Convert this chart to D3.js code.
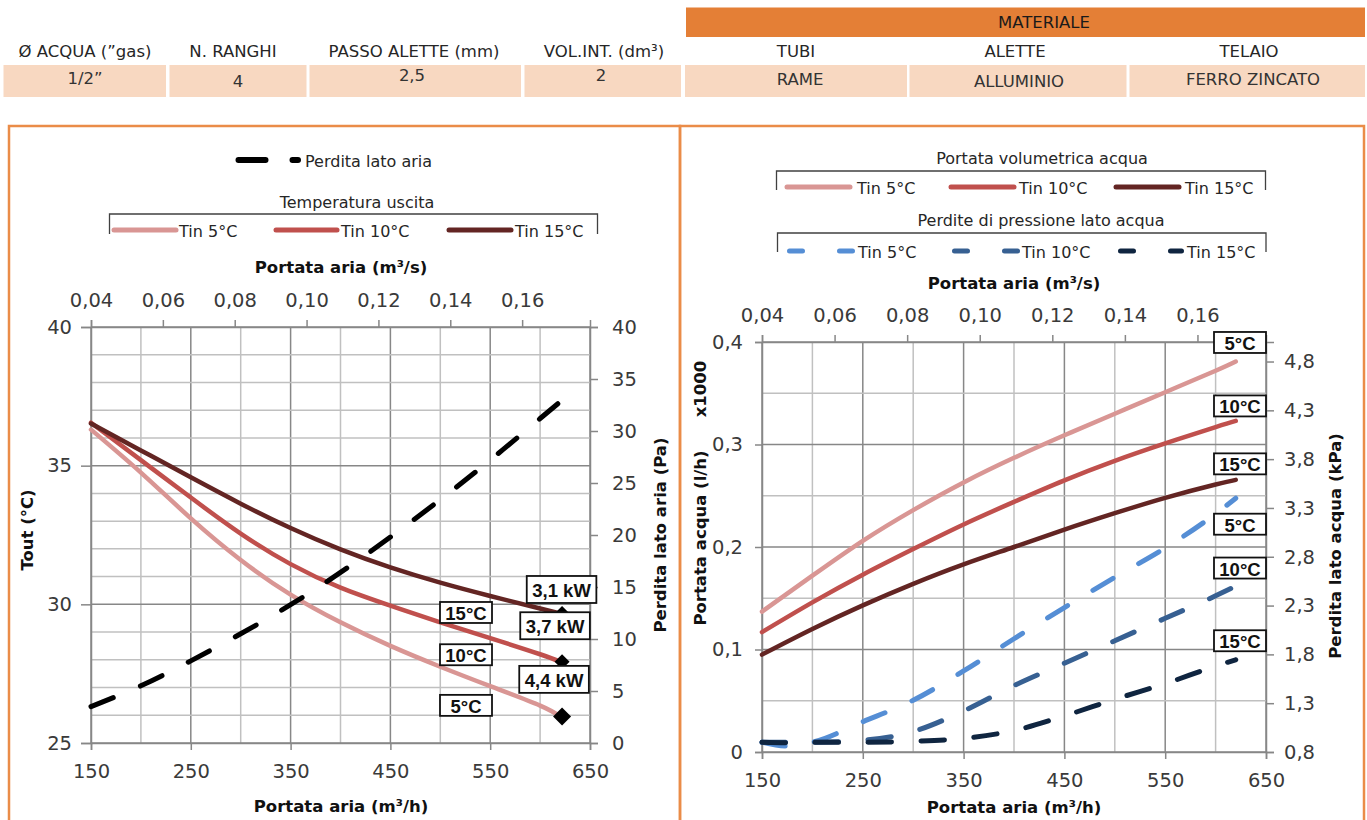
<!DOCTYPE html>
<html>
<head>
<meta charset="utf-8">
<script src="https://cdn.jsdelivr.net/npm/d3@7"></script>
<style>
  body { margin: 0; background: #fff; }
  svg text { font-family: "DejaVu Sans", Lato, sans-serif; }
</style>
</head>
<body>
<svg id="chart" width="1367" height="820"></svg>
<script>
// ---- dati tabella ----
const headerLabels = ["Ø ACQUA (”gas)", "N. RANGHI", "PASSO ALETTE (mm)", "VOL.INT. (dm³)", "TUBI", "ALETTE", "TELAIO"];
const headerValues = ["1/2”", "4", "2,5", "2", "RAME", "ALLUMINIO", "FERRO ZINCATO"];
const materialTitle = "MATERIALE";

// ---- grafico 1: temperatura uscita / perdita lato aria ----
const airflow = [150, 200, 250, 300, 350, 400, 450, 500, 550, 600, 620];
const toutTin5  = [36.3, 34.75, 33.1, 31.6, 30.35, 29.35, 28.5, 27.75, 27.05, 26.35, 25.96];
const toutTin10 = [36.55, 35.2, 33.85, 32.55, 31.45, 30.6, 29.95, 29.35, 28.78, 28.2, 27.93];
const toutTin15 = [36.52, 35.55, 34.58, 33.63, 32.75, 31.98, 31.33, 30.78, 30.3, 29.85, 29.67];
const airPressureDrop = [3.5, 5.5, 7.9, 10.5, 13.3, 16.4, 19.8, 23.4, 27.2, 31.2, 32.8];
const capacityLabels = ["4,4 kW", "3,7 kW", "3,1 kW"];
const tinLabels = ["5°C", "10°C", "15°C"];
const legendTin = ["Tin 5°C", "Tin 10°C", "Tin 15°C"];

// ---- grafico 2: portata acqua / perdite lato acqua ----
const waterFlowTin5  = [0.137, 0.172, 0.206, 0.236, 0.263, 0.287, 0.309, 0.330, 0.351, 0.372, 0.381];
const waterFlowTin10 = [0.117, 0.146, 0.173, 0.198, 0.222, 0.244, 0.265, 0.284, 0.301, 0.317, 0.323];
const waterFlowTin15 = [0.095, 0.12, 0.143, 0.164, 0.183, 0.2, 0.217, 0.233, 0.248, 0.261, 0.2655];
const airflowDp = [150, 175, 200, 250, 300, 350, 400, 450, 500, 550, 600, 620];
const waterDpTin5  = [0.9, 0.86, 0.9, 1.11, 1.33, 1.63, 1.96, 2.28, 2.59, 2.89, 3.24, 3.4];
const waterDpTin10 = [0.9, 0.9, 0.9, 0.92, 1.01, 1.22, 1.48, 1.71, 1.94, 2.17, 2.40, 2.5];
const waterDpTin15 = [0.9, 0.895, 0.9, 0.9, 0.91, 0.94, 1.02, 1.17, 1.34, 1.50, 1.68, 1.745];

// ---- tick ----
const ticksM3h = [150, 250, 350, 450, 550, 650];
const ticksM3s = [0.04, 0.06, 0.08, 0.10, 0.12, 0.14, 0.16];
const ticksTout = [25, 30, 35, 40];
const ticksPa = [0, 5, 10, 15, 20, 25, 30, 35, 40];
const ticksFlow = [0, 0.1, 0.2, 0.3, 0.4];
const ticksKPa = [0.8, 1.3, 1.8, 2.3, 2.8, 3.3, 3.8, 4.3, 4.8];

const reds = ["#d99694", "#c0504d", "#632523"];
const blues = ["#558ed5", "#376092", "#0f2540"];
const ORANGE = "#e47f36";
const GRID_MAJOR = "#878787", GRID_MINOR = "#c0c0c0";
const BOX_FONT = '"Liberation Sans", Arial, sans-serif';

const svg = d3.select("#chart");
const comma = fmt => v => (v === 0 ? "0" : d3.format(fmt)(v).replace(".", ","));

// ---------- tabella ----------
const cellX = [[3.5, 166], [169.5, 306.5], [309.5, 521], [524.5, 681], [685, 907], [909.5, 1126.5], [1129.5, 1365]];
const labelCx = [85, 233, 414, 604, 796, 1015, 1249];
const valueCx = [85, 238, 412, 601, 800, 1019, 1253];
const valueBase = [84, 87, 81, 81, 85, 87, 85];

svg.append("rect").attr("x", 686).attr("y", 7.5).attr("width", 679).attr("height", 29.5).attr("fill", ORANGE);
svg.append("text").attr("x", 1044).attr("y", 27.5).attr("text-anchor", "middle")
  .attr("font-size", 16.5).attr("fill", "#1a1a1a").text(materialTitle);

svg.selectAll("rect.cell").data(cellX).enter().append("rect")
  .attr("class", "cell")
  .attr("x", d => d[0]).attr("y", 65).attr("width", d => d[1] - d[0]).attr("height", 32)
  .attr("fill", "#f8d8c1");

svg.selectAll("text.hlabel").data(headerLabels).enter().append("text")
  .attr("class", "hlabel")
  .attr("x", (d, i) => labelCx[i]).attr("y", 57).attr("text-anchor", "middle")
  .attr("font-size", 16.5).attr("fill", "#262626").text(d => d);

svg.selectAll("text.hvalue").data(headerValues).enter().append("text")
  .attr("class", "hvalue")
  .attr("x", (d, i) => valueCx[i]).attr("y", (d, i) => valueBase[i]).attr("text-anchor", "middle")
  .attr("font-size", 16.5).attr("fill", "#333").text(d => d);

// cornici arancioni
svg.append("rect").attr("x", 9).attr("y", 126).attr("width", 671).attr("height", 720)
  .attr("fill", "none").attr("stroke", "#ea8c48").attr("stroke-width", 2.5);
svg.append("rect").attr("x", 680).attr("y", 126).attr("width", 684).attr("height", 720)
  .attr("fill", "none").attr("stroke", "#ea8c48").attr("stroke-width", 2.5);

// ---------- funzioni comuni ----------
function grid(g, x, y, xStep, yStep, yMajorEvery) {
  const [x0, x1] = x.domain(), [y0, y1] = y.domain();
  const xs = d3.range(x0, x1 + 0.001, xStep);
  const ys = d3.range(0, Math.round((y1 - y0) / yStep) + 1).map(i => y0 + i * yStep);
  g.selectAll("line.vg").data(xs).enter().append("line")
    .attr("x1", d => x(d)).attr("x2", d => x(d))
    .attr("y1", y.range()[0]).attr("y2", y.range()[1])
    .attr("stroke", d => ((d - x0) % (2 * xStep) === 0 ? GRID_MAJOR : GRID_MINOR))
    .attr("stroke-width", 1.5);
  g.selectAll("line.hg").data(ys).enter().append("line")
    .attr("x1", x.range()[0]).attr("x2", x.range()[1])
    .attr("y1", d => y(d)).attr("y2", d => y(d))
    .attr("stroke", (d, i) => (i % yMajorEvery === 0 ? GRID_MAJOR : GRID_MINOR))
    .attr("stroke-width", 1.5);
}

function styleAxis(g) {
  g.select(".domain").attr("stroke", GRID_MAJOR).attr("stroke-width", 1.5);
  g.selectAll(".tick line").attr("stroke", GRID_MAJOR).attr("stroke-width", 1.5);
  g.selectAll(".tick text").attr("font-size", 19.5).attr("fill", "#3a3a3a")
    .style("font-family", '"DejaVu Sans", Lato, sans-serif');
}

function boldTitle(x, y, text, rotate) {
  const t = svg.append("text").attr("text-anchor", "middle").attr("dominant-baseline", "central")
    .attr("font-size", 16.5).attr("font-weight", "bold").attr("fill", "#111");
  if (rotate) t.attr("transform", `translate(${x},${y}) rotate(-90)`);
  else t.attr("x", x).attr("y", y);
  t.text(text);
  return t;
}

// riquadro etichetta: larghezza fissa se w > 0, altrimenti testo + padding
function labelBox(cx, cy, text, w, h) {
  const g = svg.append("g");
  const t = g.append("text").attr("x", cx).attr("y", cy + 1).attr("text-anchor", "middle")
    .attr("dominant-baseline", "central").attr("font-size", 18.5).attr("font-weight", "bold")
    .style("font-family", BOX_FONT).attr("fill", "#111").text(text);
  const bw = w > 0 ? w : t.node().getComputedTextLength() + 11;
  g.insert("rect", "text").attr("x", cx - bw / 2).attr("y", cy - h / 2).attr("width", bw).attr("height", h)
    .attr("fill", "#fff").attr("stroke", "#111").attr("stroke-width", 1.8);
}

function bracket(x0, x1, yTop, yBot) {
  svg.append("path").attr("d", `M${x0},${yBot}V${yTop}H${x1}V${yBot}`)
    .attr("fill", "none").attr("stroke", "#404040").attr("stroke-width", 1.3);
}

function legendText(x, y, text, anchor) {
  svg.append("text").attr("x", x).attr("y", y).attr("dominant-baseline", "central")
    .attr("text-anchor", anchor || "start").attr("font-size", 16).attr("fill", "#262626").text(text);
}

// ---------- grafico 1 ----------
const xL = d3.scaleLinear().domain([150, 650]).range([91, 590]);
const xLtop = d3.scaleLinear().domain([0.04, 0.04 + 500 / 3600]).range([91, 590]);
const yT = d3.scaleLinear().domain([25, 40]).range([743, 327]);
const yPa = d3.scaleLinear().domain([0, 40]).range([743, 327]);

const g1 = svg.append("g");
grid(g1, xL, yT, 50, 1, 5);

const axL = svg.append("g").attr("transform", `translate(91,0)`)
  .call(d3.axisLeft(yT).tickValues(ticksTout).tickSize(10).tickPadding(9));
styleAxis(axL);
const axR = svg.append("g").attr("transform", `translate(590,0)`)
  .call(d3.axisRight(yPa).tickValues(ticksPa).tickSize(8).tickPadding(14));
styleAxis(axR);
const axB = svg.append("g").attr("transform", `translate(0,743)`)
  .call(d3.axisBottom(xL).tickValues(ticksM3h).tickSize(7));
styleAxis(axB);
axB.selectAll(".tick text").attr("y", 28).attr("dy", "0.35em");
const axT = svg.append("g").attr("transform", `translate(0,327)`)
  .call(d3.axisTop(xLtop).tickValues(ticksM3s).tickSize(7).tickFormat(comma(".2f")));
styleAxis(axT);
axT.selectAll(".tick text").attr("y", -27).attr("dy", "0.35em");

boldTitle(27, 530, "Tout (°C)", true);
boldTitle(660, 535, "Perdita lato aria (Pa)", true);
boldTitle(341, 806, "Portata aria (m³/h)");
boldTitle(341, 267, "Portata aria (m³/s)");

const lineT = d3.line().x((d, i) => xL(airflow[i])).y(d => yT(d)).curve(d3.curveNatural);
const toutSeries = [toutTin5, toutTin10, toutTin15];
svg.selectAll("path.tout").data(toutSeries).enter().append("path")
  .attr("class", "tout")
  .attr("d", d => lineT(d)).attr("fill", "none")
  .attr("stroke", (d, i) => reds[i]).attr("stroke-width", 4.5).attr("stroke-linecap", "round");

const linePa = d3.line().x((d, i) => xL(airflow[i])).y(d => yPa(d)).curve(d3.curveNatural);
svg.append("path").attr("d", linePa(airPressureDrop)).attr("fill", "none")
  .attr("stroke", "#000").attr("stroke-width", 5).attr("stroke-linecap", "round")
  .attr("stroke-dasharray", "24 29.5");

// marcatori a rombo a fine curva
const last = airflow.length - 1;
toutSeries.forEach((s, i) => {
  const cx = xL(airflow[last]) + 2, cy = yT(s[last]), r = i === 0 ? 9 : 7.5;
  svg.append("path").attr("d", `M${cx},${cy - r}L${cx + r},${cy}L${cx},${cy + r}L${cx - r},${cy}Z`).attr("fill", "#000");
});

// etichette
const capOffset = [[-6, -37], [-5, -36], [1.5, -24]];
toutSeries.forEach((s, i) => {
  labelBox(xL(airflow[last]) + capOffset[i][0], yT(s[last]) + capOffset[i][1], capacityLabels[i], 0, 27);
});
const tinOffset = [-11, -7, -1];
toutSeries.forEach((s, i) => {
  labelBox(466, yT(s[last]) + tinOffset[i], tinLabels[i], 52, 21);
});

// legenda grafico 1
svg.append("line").attr("x1", 238.5).attr("x2", 298).attr("y1", 160).attr("y2", 160)
  .attr("stroke", "#000").attr("stroke-width", 6).attr("stroke-linecap", "round")
  .attr("stroke-dasharray", "27 27");
legendText(305, 161, "Perdita lato aria");
legendText(357, 202, "Temperatura uscita", "middle");
bracket(109.5, 597.5, 214, 234);
const leg1X = [[114, 176, 179], [276, 337, 341], [449, 511, 515]];
leg1X.forEach((p, i) => {
  svg.append("line").attr("x1", p[0]).attr("x2", p[1]).attr("y1", 230).attr("y2", 230)
    .attr("stroke", reds[i]).attr("stroke-width", 5).attr("stroke-linecap", "round");
  legendText(p[2], 231, legendTin[i]);
});

// ---------- grafico 2 ----------
const xR = d3.scaleLinear().domain([150, 650]).range([762, 1266]);
const xRtop = d3.scaleLinear().domain([0.04, 0.04 + 500 / 3600]).range([762, 1266]);
const yQ = d3.scaleLinear().domain([0, 0.4]).range([752, 342]);
const yK = d3.scaleLinear().domain([0.8, 5.0]).range([752, 342]);

const g2 = svg.append("g");
grid(g2, xR, yQ, 50, 0.05, 2);

const ax2L = svg.append("g").attr("transform", `translate(762,0)`)
  .call(d3.axisLeft(yQ).tickValues(ticksFlow).tickSize(7).tickPadding(12).tickFormat(comma(".1f")));
styleAxis(ax2L);
const ax2R = svg.append("g").attr("transform", `translate(1266,0)`)
  .call(d3.axisRight(yK).tickValues(ticksKPa).tickSize(8).tickPadding(10).tickFormat(comma(".1f")));
styleAxis(ax2R);
const ax2B = svg.append("g").attr("transform", `translate(0,752)`)
  .call(d3.axisBottom(xR).tickValues(ticksM3h).tickSize(7));
styleAxis(ax2B);
ax2B.selectAll(".tick text").attr("y", 28).attr("dy", "0.35em");
const ax2T = svg.append("g").attr("transform", `translate(0,342)`)
  .call(d3.axisTop(xRtop).tickValues(ticksM3s).tickSize(7).tickFormat(comma(".2f")));
styleAxis(ax2T);
ax2T.selectAll(".tick text").attr("y", -27).attr("dy", "0.35em");

boldTitle(700, 538, "Portata acqua (l/h)", true);
boldTitle(700, 389, "x1000", true);
boldTitle(1335, 546, "Perdita lato acqua (kPa)", true);
boldTitle(1014, 807, "Portata aria (m³/h)");
boldTitle(1014, 283, "Portata aria (m³/s)");

const flowSeries = [waterFlowTin5, waterFlowTin10, waterFlowTin15];
const dpSeries = [waterDpTin5, waterDpTin10, waterDpTin15];
const lineQ = d3.line().x((d, i) => xR(airflow[i])).y(d => yQ(d)).curve(d3.curveNatural);
const lineK = d3.line().x((d, i) => xR(airflowDp[i])).y(d => yK(d)).curve(d3.curveMonotoneX);

svg.selectAll("path.dp").data(dpSeries).enter().append("path")
  .attr("class", "dp")
  .attr("d", d => lineK(d)).attr("fill", "none")
  .attr("stroke", (d, i) => blues[i]).attr("stroke-width", 5).attr("stroke-linecap", "round")
  .attr("stroke-dasharray", "23.5 29.5");
svg.selectAll("path.flow").data(flowSeries).enter().append("path")
  .attr("class", "flow")
  .attr("d", d => lineQ(d)).attr("fill", "none")
  .attr("stroke", (d, i) => reds[i]).attr("stroke-width", 4.5).attr("stroke-linecap", "round");

const flowOffset = [-19, -15, -16];
flowSeries.forEach((s, i) => labelBox(1240, yQ(s[last]) + flowOffset[i], tinLabels[i], 52, 21));
const dpOffset = [26, -18, -19];
dpSeries.forEach((s, i) => labelBox(1240, yK(s[s.length - 1]) + dpOffset[i], tinLabels[i], 52, 21));

// legenda grafico 2
legendText(1042, 158, "Portata volumetrica acqua", "middle");
bracket(776.5, 1265.5, 171, 190);
const leg2X = [[787, 850, 857], [951, 1014, 1019], [1116, 1179, 1185]];
leg2X.forEach((p, i) => {
  svg.append("line").attr("x1", p[0]).attr("x2", p[1]).attr("y1", 187).attr("y2", 187)
    .attr("stroke", reds[i]).attr("stroke-width", 5).attr("stroke-linecap", "round");
  legendText(p[2], 188, legendTin[i]);
});
legendText(1041, 220, "Perdite di pressione lato acqua", "middle");
bracket(777.5, 1266, 233, 252);
const leg3X = [[789.5, 852.5, 858], [954.5, 1017.5, 1022], [1120.5, 1181.5, 1187]];
leg3X.forEach((p, i) => {
  svg.append("line").attr("x1", p[0]).attr("x2", p[1]).attr("y1", 251).attr("y2", 251)
    .attr("stroke", blues[i]).attr("stroke-width", 5).attr("stroke-linecap", "round")
    .attr("stroke-dasharray", "13 37");
  legendText(p[2], 252, legendTin[i]);
});
</script>
</body>
</html>
